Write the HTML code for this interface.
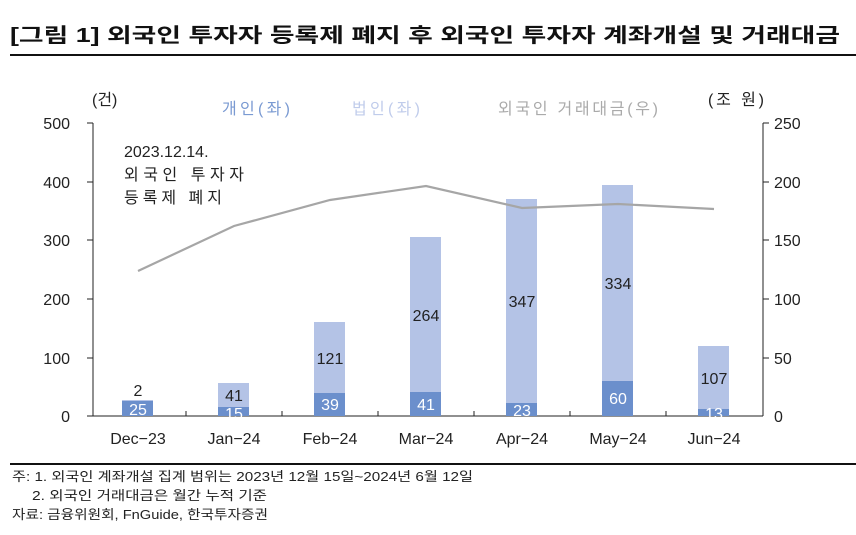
<!DOCTYPE html>
<html><head><meta charset="utf-8"><style>
body{margin:0;background:#fff;width:856px;height:530px;overflow:hidden}
svg text{font-family:"Liberation Sans","Noto Sans CJK KR",sans-serif}
</style></head><body>
<svg width="856" height="530" viewBox="0 0 856 530">
<text x="10" y="42" font-size="20" font-weight="bold" fill="#111" textLength="830" lengthAdjust="spacingAndGlyphs">[그림 1] 외국인 투자자 등록제 폐지 후 외국인 투자자 계좌개설 및 거래대금</text>
<line x1="10" y1="55" x2="856" y2="55" stroke="#111" stroke-width="2"/>
<g font-size="16" fill="#222">
<text x="92" y="105">(건)</text>
<text x="708" y="105" textLength="56">(조 원)</text>
</g>
<text x="222" y="114" font-size="16" fill="#7a9ad2" textLength="68">개인(좌)</text>
<text x="352" y="114" font-size="16" fill="#c0cceb" textLength="68">법인(좌)</text>
<text x="498" y="114" font-size="16" fill="#aaa" textLength="160">외국인 거래대금(우)</text>
<g stroke="#222" stroke-width="1">
<line x1="93" y1="123" x2="93" y2="416"/>
<line x1="763" y1="123" x2="763" y2="416"/>
<line x1="93" y1="416" x2="763" y2="416"/>
<line x1="87" y1="123" x2="93" y2="123"/><line x1="87" y1="182" x2="93" y2="182"/><line x1="87" y1="240" x2="93" y2="240"/><line x1="87" y1="299" x2="93" y2="299"/><line x1="87" y1="358" x2="93" y2="358"/><line x1="87" y1="416" x2="93" y2="416"/>
<line x1="763" y1="123" x2="769" y2="123"/><line x1="763" y1="182" x2="769" y2="182"/><line x1="763" y1="240" x2="769" y2="240"/><line x1="763" y1="299" x2="769" y2="299"/><line x1="763" y1="358" x2="769" y2="358"/>
<line x1="186" y1="416" x2="186" y2="411"/><line x1="282" y1="416" x2="282" y2="411"/><line x1="378" y1="416" x2="378" y2="411"/><line x1="474" y1="416" x2="474" y2="411"/><line x1="570" y1="416" x2="570" y2="411"/><line x1="666" y1="416" x2="666" y2="411"/>
</g>
<g font-size="16" fill="#222" text-anchor="end">
<text x="70" y="129">500</text><text x="70" y="188">400</text><text x="70" y="246">300</text><text x="70" y="305">200</text><text x="70" y="364">100</text><text x="70" y="422">0</text>
</g>
<g font-size="16" fill="#222">
<text x="774" y="129">250</text><text x="774" y="188">200</text><text x="774" y="246">150</text><text x="774" y="305">100</text><text x="774" y="364">50</text><text x="774" y="422">0</text>
</g>
<g fill="#b4c3e6">
<rect x="122" y="400" width="31" height="1"/>
<rect x="218" y="383" width="31" height="24"/>
<rect x="314" y="322" width="31" height="71"/>
<rect x="410" y="237" width="31" height="155"/>
<rect x="506" y="199" width="31" height="204"/>
<rect x="602" y="185" width="31" height="196"/>
<rect x="698" y="346" width="31" height="63"/>
</g>
<g fill="#6b8fcc">
<rect x="122" y="401" width="31" height="15"/>
<rect x="218" y="407" width="31" height="9"/>
<rect x="314" y="393" width="31" height="23"/>
<rect x="410" y="392" width="31" height="24"/>
<rect x="506" y="403" width="31" height="13"/>
<rect x="602" y="381" width="31" height="35"/>
<rect x="698" y="409" width="31" height="7"/>
</g>
<polyline points="138,271 234,226 330,200 426,186 522,208 618,204 714,209" fill="none" stroke="#a6a6a6" stroke-width="2.2"/>
<g font-size="16" text-anchor="middle" fill="#222">
<text x="138" y="396">2</text><text x="234" y="401">41</text><text x="330" y="364">121</text><text x="426" y="321">264</text><text x="522" y="307">347</text><text x="618" y="289">334</text><text x="714" y="384">107</text>
</g>
<g font-size="16" text-anchor="middle" fill="#fff">
<text x="138" y="415">25</text><text x="234" y="419">15</text><text x="330" y="410">39</text><text x="426" y="410">41</text><text x="522" y="416">23</text><text x="618" y="404">60</text><text x="714" y="419">13</text>
</g>
<g font-size="16" text-anchor="middle" fill="#222">
<text x="138" y="444">Dec−23</text><text x="234" y="444">Jan−24</text><text x="330" y="444">Feb−24</text><text x="426" y="444">Mar−24</text><text x="522" y="444">Apr−24</text><text x="618" y="444">May−24</text><text x="714" y="444">Jun−24</text>
</g>
<g font-size="16" fill="#222">
<text x="124" y="157">2023.12.14.</text>
<text x="124" y="180" textLength="120">외국인 투자자</text>
<text x="124" y="203" textLength="98">등록제 폐지</text>
</g>
<line x1="10" y1="464" x2="856" y2="464" stroke="#111" stroke-width="2"/>
<g font-size="13" fill="#222">
<text x="12" y="481" textLength="461" lengthAdjust="spacingAndGlyphs">주: 1. 외국인 계좌개설 집계 범위는 2023년 12월 15일~2024년 6월 12일</text>
<text x="32" y="500" textLength="235" lengthAdjust="spacingAndGlyphs">2. 외국인 거래대금은 월간 누적 기준</text>
<text x="12" y="519" textLength="256" lengthAdjust="spacingAndGlyphs">자료: 금융위원회, FnGuide, 한국투자증권</text>
</g>
</svg>
</body></html>
